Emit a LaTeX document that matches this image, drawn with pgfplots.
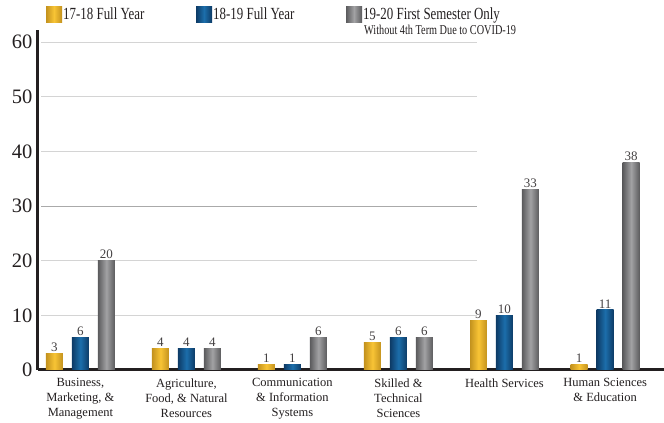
\documentclass[border=0pt]{standalone}
\usepackage{pgfplots}
\pgfplotsset{compat=1.18}
\usepackage{fontspec}
\setmainfont{Liberation Serif}
\newfontfamily\narrowserif[FakeStretch=0.76]{Liberation Serif}

\definecolor{ink}{HTML}{231F20}
\definecolor{goldD}{HTML}{C3921E}
\definecolor{goldL}{HTML}{F8C435}
\definecolor{blueD}{HTML}{0D3B66}
\definecolor{blueL}{HTML}{1C6EAB}
\definecolor{grayD}{HTML}{5B5B5D}
\definecolor{grayL}{HTML}{A2A2A4}
\definecolor{gridc}{HTML}{D4D4D4}

\pgfplotsset{
  barbase/.style={ybar, bar width=0.16, bar shift=0, draw=none},
  goldbar/.style={barbase, left color=goldD, right color=goldD, middle color=goldL},
  bluebar/.style={barbase, left color=blueD, right color=blueD, middle color=blueL},
  graybar/.style={barbase, left color=grayD, right color=grayD, middle color=grayL},
}

\begin{document}
\begin{tikzpicture}
\begin{axis}[
  scale only axis, width=626pt, height=340pt,
  xmin=-0.40, xmax=5.505, ymin=0, ymax=62.2,
  axis x line=bottom, axis y line=left,
  axis line style={line width=3pt, color=ink, -},
  ytick={0,10,...,60},
  xtick={0,1,2,3,4,4.95},
  xticklabels={{Business,\\Marketing, \&\\Management},
               {Agriculture,\\Food, \& Natural\\Resources},
               {Communication\\\& Information\\Systems},
               {Skilled \&\\Technical\\Sciences},
               {Health Services},
               {Human Sciences\\\& Education}},
  major tick length=0pt,
  /pgf/number format/assume math mode=true,
  yticklabel style={font=\fontsize{20.5}{20.5}\selectfont, text=ink, xshift=-2pt},
  xticklabel style={font=\fontsize{12.5}{15}\selectfont, text=ink, align=center, yshift=-5pt},
  nodes near coords,
  nodes near coords style={font=\fontsize{13}{13}\selectfont, text=ink!85, inner sep=1.5pt},
  clip=false,
]
\coordinate (bl) at (rel axis cs:0,0);
% horizontal guide lines
\pgfplotsinvokeforeach{10,20,40,50,60}{
  \draw[gridc, line width=1pt] (axis cs:-0.37,#1) -- (axis cs:3.74,#1);
}
\draw[gridc!80!black, line width=1pt] (axis cs:-0.37,30) -- (axis cs:3.74,30);

% 17-18 full year
\addplot[goldbar] coordinates {(-0.245,3)};
\addplot[goldbar] coordinates {(0.755,4)};
\addplot[goldbar] coordinates {(1.755,1)};
\addplot[goldbar] coordinates {(2.755,5)};
\addplot[goldbar] coordinates {(3.755,9)};
\addplot[goldbar] coordinates {(4.705,1)};
% 18-19 full year
\addplot[bluebar] coordinates {(0,6)};
\addplot[bluebar] coordinates {(1,4)};
\addplot[bluebar] coordinates {(2,1)};
\addplot[bluebar] coordinates {(3,6)};
\addplot[bluebar] coordinates {(4,10)};
\addplot[bluebar] coordinates {(4.95,11)};
% 19-20 first semester only
\addplot[graybar] coordinates {(0.245,20)};
\addplot[graybar] coordinates {(1.245,4)};
\addplot[graybar] coordinates {(2.245,6)};
\addplot[graybar] coordinates {(3.245,6)};
\addplot[graybar] coordinates {(4.245,33)};
\addplot[graybar] coordinates {(5.195,38)};
\end{axis}

% legend
\fill[left color=goldD, right color=goldD, middle color=goldL]
  ([shift={(8pt,347pt)}]bl) rectangle ([shift={(24pt,363pt)}]bl);
\node[anchor=base west, inner sep=0pt, text=ink, font=\narrowserif\fontsize{17}{17}\selectfont]
  at ([shift={(25pt,350pt)}]bl) {17-18 Full Year};
\fill[left color=blueD, right color=blueD, middle color=blueL]
  ([shift={(158pt,347pt)}]bl) rectangle ([shift={(174pt,363pt)}]bl);
\node[anchor=base west, inner sep=0pt, text=ink, font=\narrowserif\fontsize{17}{17}\selectfont]
  at ([shift={(175pt,350pt)}]bl) {18-19 Full Year};
\fill[left color=grayD, right color=grayD, middle color=grayL]
  ([shift={(308pt,347pt)}]bl) rectangle ([shift={(324pt,363pt)}]bl);
\node[anchor=base west, inner sep=0pt, text=ink, font=\narrowserif\fontsize{17}{17}\selectfont]
  at ([shift={(325pt,350pt)}]bl) {19-20 First Semester Only};
\node[anchor=base west, inner sep=0pt, text=ink, font=\narrowserif\fontsize{13.5}{13.5}\selectfont]
  at ([shift={(326pt,335.5pt)}]bl) {Without 4th Term Due to COVID-19};

\pgfresetboundingbox
\path ([shift={(-38pt,-53pt)}]bl) rectangle ([shift={(626pt,370pt)}]bl);
\end{tikzpicture}
\end{document}
